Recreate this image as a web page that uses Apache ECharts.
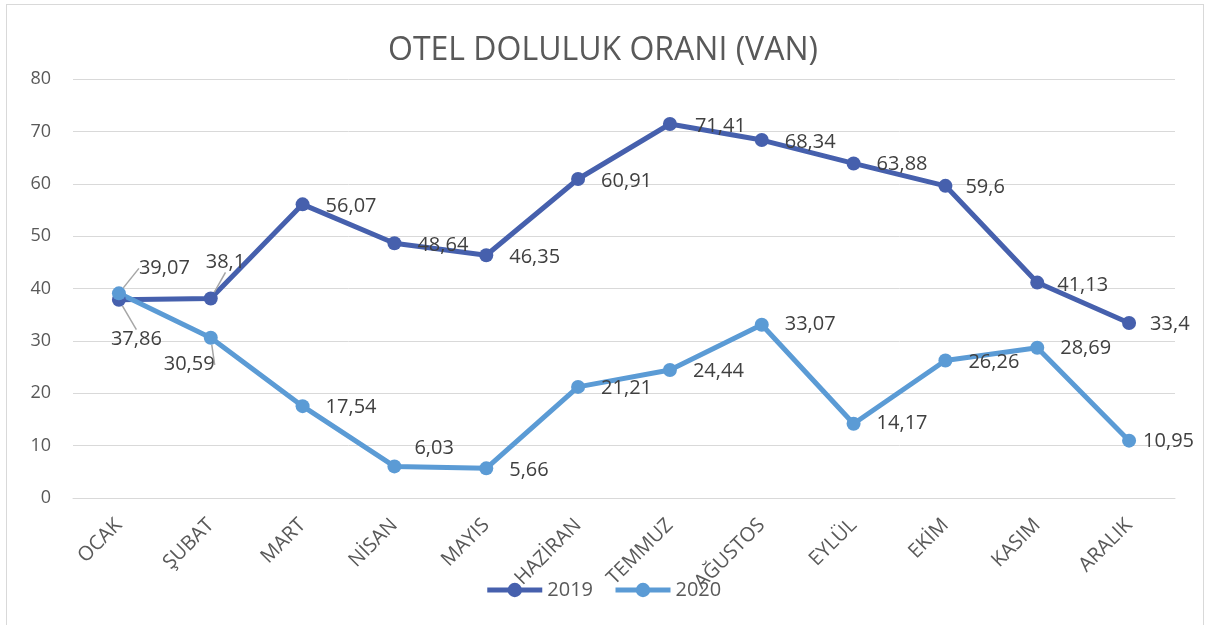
<!DOCTYPE html>
<html>
<head>
<meta charset="utf-8">
<script src="https://cdn.jsdelivr.net/npm/echarts@6/dist/echarts.min.js"></script>
<style>
    body { margin: 0; background: #fff; }
    #frame { position: absolute; left: 6px; top: 4px; width: 1196px; height: 640px; border: 1px solid #d9d9d9; }
    #main { position: absolute; left: 0; top: 0; width: 1206px; height: 625px; }
</style>
</head>
<body>
<div id="frame"></div>
<div id="main"></div>
<script>
var months = ['OCAK', 'ŞUBAT', 'MART', 'NİSAN', 'MAYIS', 'HAZİRAN', 'TEMMUZ', 'AĞUSTOS', 'EYLÜL', 'EKİM', 'KASIM', 'ARALIK'];
var data2019 = [37.86, 38.1, 56.07, 48.64, 46.35, 60.91, 71.41, 68.34, 63.88, 59.6, 41.13, 33.4];
var data2020 = [39.07, 30.59, 17.54, 6.03, 5.66, 21.21, 24.44, 33.07, 14.17, 26.26, 28.69, 10.95];

// label nudges (px) so they sit like the original, and which ones get a leader line
var shift2019 = [[-31, 40], [-28, -36], [0, 2], [0, 2], [0, 2], [0, 2], [2, 2], [0, 2], [0, 1], [-3, 1], [-3, 3], [-2, 1]];
var shift2020 = [[-3, -25], [-70, 27], [0, 1], [-3, -18], [0, 2], [0, 1], [0, 1], [0, 0], [0, 0], [0, 2], [0, 1], [-9, 1]];
var leader2019 = [0, 1];
var leader2020 = [0, 1];

var fontName = '"Open Sans", "Noto Sans", sans-serif';

function fmt(v) {
    return String(v).replace('.', ',');
}

function buildData(values, leaders) {
    var list = [];
    for (var i = 0; i < values.length; i++) {
        list.push({
            value: values[i],
            labelLine: { show: leaders.indexOf(i) >= 0 }
        });
    }
    return list;
}

var myChart = echarts.init(document.getElementById('main'));

option = {
    backgroundColor: 'transparent',
    title: {
        text: 'OTEL DOLULUK ORANI (VAN)',
        left: 'center',
        top: 30,
        textStyle: {
            fontFamily: fontName,
            fontSize: 32,
            fontWeight: 'normal',
            color: '#595959'
        }
    },
    legend: {
        bottom: 20,
        left: 'center',
        itemWidth: 55,
        itemHeight: 18,
        itemGap: 20,
        lineStyle: { width: 5 },
        textStyle: {
            fontFamily: fontName,
            fontSize: 20,
            color: '#595959'
        },
        data: ['2019', '2020']
    },
    grid: {
        left: 73,
        right: 31,
        top: 79,
        bottom: 127
    },
    xAxis: {
        type: 'category',
        data: months,
        axisLine: { lineStyle: { color: '#d9d9d9' } },
        axisTick: { show: false },
        axisLabel: {
            rotate: 45,
            margin: 24,
            fontFamily: fontName,
            fontSize: 20,
            color: '#595959'
        }
    },
    yAxis: {
        type: 'value',
        min: 0,
        max: 80,
        interval: 10,
        axisLine: { show: false },
        axisTick: { show: false },
        axisLabel: {
            margin: 22,
            fontFamily: fontName,
            fontSize: 18,
            color: '#595959'
        },
        splitLine: { lineStyle: { color: '#d9d9d9', width: 1 } }
    },
    series: [{
        name: '2019',
        type: 'line',
        data: buildData(data2019, leader2019),
        symbol: 'circle',
        symbolSize: 14,
        color: '#4660ad',
        lineStyle: { width: 5 },
        label: {
            show: true,
            position: 'right',
            distance: 16,
            fontFamily: fontName,
            fontSize: 20,
            color: '#404040',
            formatter: function(p) { return fmt(p.value); }
        },
        labelLine: { lineStyle: { color: '#a6a6a6', width: 1.5 } },
        labelLayout: function(p) {
            return { dx: shift2019[p.dataIndex][0], dy: shift2019[p.dataIndex][1] };
        }
    }, {
        name: '2020',
        type: 'line',
        data: buildData(data2020, leader2020),
        symbol: 'circle',
        symbolSize: 14,
        color: '#5b9bd5',
        lineStyle: { width: 5 },
        label: {
            show: true,
            position: 'right',
            distance: 16,
            fontFamily: fontName,
            fontSize: 20,
            color: '#404040',
            formatter: function(p) { return fmt(p.value); }
        },
        labelLine: { lineStyle: { color: '#a6a6a6', width: 1.5 } },
        labelLayout: function(p) {
            return { dx: shift2020[p.dataIndex][0], dy: shift2020[p.dataIndex][1] };
        }
    }]
};

myChart.setOption(option);
</script>
</body>
</html>
